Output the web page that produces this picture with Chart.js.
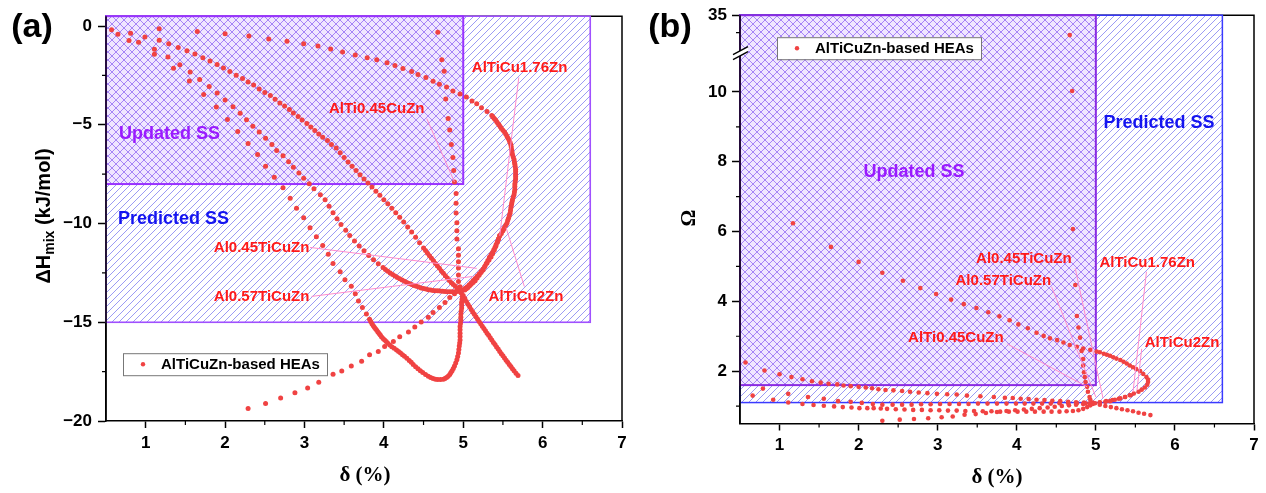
<!DOCTYPE html>
<html>
<head>
<meta charset="utf-8">
<script src="https://cdn.jsdelivr.net/npm/chart.js@4.4.1/dist/chart.umd.min.js"></script>
<style>
  html, body { margin: 0; padding: 0; background: #fff; }
  #wrap { position: relative; width: 1266px; height: 493px; overflow: hidden; }
  canvas { position: absolute; top: 0; }
  #chartA { left: 0; }
  #chartB { left: 633px; }
</style>
</head>
<body>
<div id="wrap">
  <canvas id="chartA" width="633" height="493"></canvas>
  <canvas id="chartB" width="633" height="493"></canvas>
</div>
<script>
// ---- data: delta (%) vs dHmix (kJ/mol), panel (a) ----
const xTicks = [1, 2, 3, 4, 5, 6, 7];
const xMinor = [1.5, 2.5, 3.5, 4.5, 5.5, 6.5];
const yTicksA = [0, -5, -10, -15, -20];
const yMinorA = [-2.5, -7.5, -12.5, -17.5];

const cuA = [
  [2.29,-19.37],[2.51,-19.12],[2.70,-18.84],[2.88,-18.57],[3.04,-18.33],[3.18,-18.04],[3.36,-17.63],[3.47,-17.47],
  [3.59,-17.22],[3.72,-16.97],[3.82,-16.64],[3.93,-16.48],[4.01,-16.23],[4.12,-15.98],[4.20,-15.73],[4.31,-15.49],
  [4.39,-15.24],[4.47,-14.99],[4.56,-14.74],[4.62,-14.50],[4.70,-14.25],[4.77,-14.00],[4.83,-13.75],[4.89,-13.55],
  [4.97,-13.44],[5.02,-13.36],[5.06,-13.24],[5.10,-13.07],[5.15,-12.90],[5.20,-12.62],[5.25,-12.35],[5.29,-12.03],
  [5.33,-11.71],[5.37,-11.46],[5.40,-11.21],[5.43,-10.92],[5.46,-10.62],[5.50,-10.37],[5.52,-10.20],[5.55,-9.98],
  [5.57,-9.73],[5.59,-9.48],[5.60,-9.20],[5.61,-9.00],[5.62,-8.79],[5.64,-8.54],[5.65,-8.27],[5.65,-8.00],
  [5.66,-7.75],[5.66,-7.50],[5.66,-7.25],[5.65,-7.00],[5.64,-6.76],[5.62,-6.51],[5.61,-6.26],[5.60,-6.01],
  [5.58,-5.80],[5.55,-5.57],[5.52,-5.37],[5.48,-5.17],[5.45,-5.00],[5.42,-4.83],[5.39,-4.68],[5.36,-4.53],
  [5.30,-4.33],[5.23,-4.13],[5.17,-3.94],[5.11,-3.79],[5.04,-3.59],[4.96,-3.44],[4.87,-3.29],[4.79,-3.09],
  [4.70,-2.95],[4.62,-2.80],[4.53,-2.60],[4.43,-2.45],[4.35,-2.30],[4.24,-2.15],[4.14,-2.00],[4.04,-1.86],
  [3.91,-1.71],[3.79,-1.61],[3.64,-1.46],[3.48,-1.31],[3.33,-1.16],[3.17,-1.01],[2.99,-0.90],[2.78,-0.77],
  [2.55,-0.65],[2.30,-0.50],[2.00,-0.39],[1.65,-0.27],[1.17,-0.14],[0.57,-0.19],
  // denser stretch along the loop
  [5.375,-4.60],[5.405,-4.75],[5.435,-4.92],[5.465,-5.08],[5.50,-5.27],[5.535,-5.47],[5.565,-5.68],[5.59,-5.90],
  [5.605,-6.13],[5.615,-6.38],[5.63,-6.63],[5.645,-6.88],[5.655,-7.12],[5.66,-7.37],[5.66,-7.62],[5.655,-7.87],
  [5.65,-8.13],[5.645,-8.40],[5.63,-8.66],[5.615,-8.90],[5.605,-9.10],[5.595,-9.34],[5.58,-9.60],[5.56,-9.85],
  [5.535,-10.09],[5.51,-10.28],[5.48,-10.50],[5.445,-10.77],[5.415,-11.06],[5.385,-11.33],[5.35,-11.58],[5.31,-11.87],
  [5.27,-12.19],[5.225,-12.48],[5.175,-12.76],[5.125,-12.98],[5.08,-13.15],[5.04,-13.30]
];
const tiA = [
  [1.11,-1.43],[1.35,-2.14],[1.55,-2.78],[1.73,-3.46],[1.89,-4.10],[2.03,-4.73],[2.16,-5.34],[2.29,-5.95],
  [2.41,-6.51],[2.51,-7.10],[2.62,-7.65],[2.73,-8.19],[2.82,-8.72],[2.90,-9.22],[2.99,-9.71],[3.07,-10.21],
  [3.15,-10.67],[3.23,-11.11],[3.30,-11.56],[3.36,-12.02],[3.45,-12.44],[3.51,-12.85],[3.59,-13.18],[3.64,-13.55],
  [3.68,-13.92],[3.73,-14.25],[3.78,-14.58],[3.82,-14.85],[3.85,-15.07],[3.88,-15.25],[3.91,-15.41],[3.94,-15.57],
  [3.97,-15.73],[4.01,-15.90],[4.05,-16.06],[4.10,-16.24],[4.16,-16.40],[4.21,-16.56],[4.26,-16.72],[4.32,-16.93],
  [4.37,-17.14],[4.43,-17.35],[4.49,-17.55],[4.56,-17.73],[4.62,-17.85],[4.68,-17.90],[4.75,-17.88],[4.79,-17.80],
  [4.83,-17.65],[4.86,-17.45],[4.89,-17.22],[4.92,-16.90],[4.94,-16.56],[4.95,-16.20],[4.96,-15.90],[4.96,-15.55],
  [4.96,-15.22],[4.97,-14.90],[4.97,-14.58],[4.98,-14.28],[4.98,-13.98],[4.99,-13.70],[4.96,-13.20],[4.94,-12.93],
  [4.94,-12.60],[4.94,-12.25],[4.94,-11.93],[4.94,-11.61],[4.94,-11.28],[4.92,-10.78],[4.92,-10.37],[4.92,-9.96],
  [4.91,-9.47],[4.91,-8.97],[4.91,-8.48],[4.89,-7.90],[4.88,-7.32],[4.87,-6.66],[4.85,-6.00],[4.83,-5.26],
  [4.81,-4.68],[4.78,-3.69],[4.76,-2.29],[4.73,-1.71],[4.68,-0.31],
  // denser stretch around the deep minimum
  [3.835,-14.96],[3.865,-15.16],[3.895,-15.33],[3.925,-15.49],[3.955,-15.65],[3.99,-15.82],[4.03,-15.98],[4.075,-16.15],
  [4.13,-16.32],[4.185,-16.48],[4.235,-16.64],[4.29,-16.82],[4.345,-17.03],[4.40,-17.25],[4.46,-17.45],[4.525,-17.64],
  [4.59,-17.80],[4.65,-17.88],[4.715,-17.90],[4.77,-17.85],[4.81,-17.73],[4.845,-17.55],[4.875,-17.34],[4.905,-17.06],
  [4.93,-16.73],[4.945,-16.38],[4.955,-16.05],[4.96,-15.72],[4.96,-15.38],[4.965,-15.06],[4.97,-14.74],[4.975,-14.43],
  [4.98,-14.13],[4.985,-13.84]
];
const alA = [
  [0.81,-0.36],[0.99,-0.55],[1.11,-1.18],[1.28,-1.57],[1.43,-1.96],[1.56,-2.32],[1.68,-2.70],[1.80,-3.06],
  [1.90,-3.39],[2.00,-3.74],[2.10,-4.08],[2.19,-4.42],[2.27,-4.74],[2.35,-5.07],[2.43,-5.37],[2.51,-5.68],
  [2.59,-6.00],[2.65,-6.30],[2.73,-6.57],[2.80,-6.87],[2.86,-7.15],[2.93,-7.44],[2.99,-7.71],[3.06,-7.98],
  [3.12,-8.24],[3.20,-8.54],[3.26,-8.79],[3.31,-9.12],[3.36,-9.45],[3.41,-9.76],[3.46,-10.05],[3.52,-10.34],
  [3.57,-10.60],[3.63,-10.88],[3.69,-11.14],[3.75,-11.38],[3.81,-11.62],[3.87,-11.84],[3.93,-12.04],[3.99,-12.23],
  [4.05,-12.42],[4.11,-12.58],[4.17,-12.73],[4.23,-12.86],[4.29,-12.98],[4.35,-13.09],[4.41,-13.18],[4.47,-13.26],
  [4.53,-13.32],[4.59,-13.37],[4.65,-13.40],[4.71,-13.42],[4.77,-13.44],[4.83,-13.45],[4.89,-13.45],[4.95,-13.43],
  [5.00,-13.35],[5.05,-13.20],[5.10,-13.00],[5.15,-12.78],[5.20,-12.55],[5.25,-12.30],[5.30,-12.00],[5.35,-11.70],
  [5.39,-11.35],[5.43,-10.95],[5.46,-10.60],
  // denser stretch along the bottom of the bend
  [4.02,-12.33],[4.08,-12.50],[4.14,-12.66],[4.20,-12.80],[4.26,-12.92],[4.32,-13.04],[4.38,-13.14],[4.44,-13.22],
  [4.50,-13.29],[4.56,-13.35],[4.62,-13.39],[4.68,-13.41],[4.74,-13.43],[4.80,-13.45],[4.86,-13.45],[4.92,-13.44],
  [4.975,-13.40],[5.025,-13.28],[5.075,-13.10],[5.125,-12.89],[5.175,-12.67],[5.225,-12.43],[5.275,-12.15],[5.325,-11.85],
  [5.37,-11.53],[5.41,-11.15],[5.445,-10.78]
];
const znA = [
  [0.65,-0.42],[0.79,-0.73],[0.91,-0.82],[1.17,-0.72],[1.29,-0.90],[1.41,-1.08],[1.52,-1.25],[1.62,-1.41],
  [1.72,-1.60],[1.81,-1.77],[1.90,-1.94],[1.98,-2.12],[2.06,-2.30],[2.14,-2.49],[2.22,-2.65],[2.29,-2.83],
  [2.36,-2.99],[2.43,-3.19],[2.50,-3.36],[2.57,-3.52],[2.63,-3.70],[2.69,-3.89],[2.75,-4.05],[2.81,-4.22],
  [2.86,-4.40],[2.92,-4.58],[2.97,-4.76],[3.03,-4.93],[3.08,-5.11],[3.13,-5.29],[3.18,-5.47],[3.23,-5.63],
  [3.29,-5.80],[3.34,-6.00],[3.40,-6.18],[3.45,-6.42],[3.50,-6.66],[3.55,-6.88],[3.60,-7.10],[3.65,-7.32],
  [3.70,-7.53],[3.75,-7.74],[3.80,-7.95],[3.85,-8.15],[3.90,-8.36],[3.95,-8.57],[4.00,-8.79],[4.05,-9.00],
  [4.10,-9.22],[4.15,-9.45],[4.20,-9.68],[4.25,-9.92],[4.30,-10.17],[4.35,-10.43],[4.40,-10.70],[4.45,-10.97],
  [4.50,-11.24],[4.55,-11.50],[4.60,-11.76],[4.65,-12.02],[4.70,-12.27],[4.75,-12.52],[4.80,-12.76],[4.85,-13.00],
  [4.90,-13.18],[4.95,-13.40],[5.00,-13.64],[5.04,-13.95],[5.08,-14.22],[5.12,-14.48],[5.16,-14.72],[5.20,-14.96],
  [5.24,-15.20],[5.28,-15.43],[5.32,-15.66],[5.36,-15.90],[5.40,-16.13],[5.44,-16.36],[5.48,-16.59],[5.52,-16.81],
  [5.56,-17.03],[5.60,-17.24],[5.64,-17.45],[5.69,-17.70],
  // denser stretch through the crossing and down to the end
  [4.525,-11.37],[4.575,-11.63],[4.625,-11.89],[4.675,-12.15],[4.725,-12.40],[4.775,-12.64],[4.825,-12.88],[4.875,-13.09],
  [4.925,-13.29],[4.975,-13.52],[5.02,-13.80],[5.06,-14.09],[5.10,-14.35],[5.14,-14.60],[5.18,-14.84],[5.22,-15.08],
  [5.26,-15.32],[5.30,-15.55],[5.34,-15.78],[5.38,-16.02],[5.42,-16.25],[5.46,-16.48],[5.50,-16.70],[5.54,-16.92],
  [5.58,-17.14],[5.62,-17.35],[5.665,-17.58]
];

// ---- data: delta (%) vs Omega, panel (b) ----
const yTicksB = [2, 4, 6, 8, 10, 35];
const yMinorB = [1, 3, 5, 7, 9, 30];
const omegaBreak = { low: 11, high: 25 };

const cuB = [
  [2.30,0.58],[2.52,0.61],[2.70,0.63],[2.88,0.65],[3.05,0.68],[3.19,0.70],[3.34,0.75],[3.48,0.77],
  [3.61,0.80],[3.75,0.83],[3.87,0.86],[3.98,0.88],[4.09,0.90],[4.19,0.92],[4.29,0.94],[4.39,0.96],
  [4.48,0.98],[4.57,1.00],[4.66,1.02],[4.75,1.04],[4.84,1.06],[4.92,1.07],[4.99,1.08],[5.05,1.10],
  [5.12,1.12],[5.18,1.14],[5.24,1.18],[5.31,1.22],[5.37,1.26],[5.43,1.31],[5.48,1.36],[5.54,1.41],
  [5.58,1.47],[5.62,1.53],[5.65,1.61],[5.66,1.69],[5.66,1.76],[5.64,1.83],[5.60,1.92],[5.56,2.00],
  [5.51,2.06],[5.47,2.11],[5.43,2.16],[5.39,2.22],[5.35,2.27],[5.31,2.32],[5.26,2.36],[5.22,2.40],
  [5.18,2.44],[5.14,2.47],[5.10,2.50],[5.05,2.54],[5.01,2.56],[4.93,2.61],[4.84,2.65],[4.76,2.70],
  [4.67,2.75],[4.59,2.82],[4.51,2.89],[4.42,2.94],[4.34,3.01],[4.25,3.10],[4.14,3.23],[4.02,3.34],
  [3.91,3.46],[3.78,3.57],[3.64,3.69],[3.49,3.81],[3.33,3.92],[3.17,4.05],[2.98,4.21],[2.78,4.38],
  [2.56,4.59],[2.30,4.82],[2.00,5.13],[1.65,5.56],[1.17,6.24]
];
const tiB = [
  [0.66,1.30],[0.92,1.18],[1.11,1.10],[1.29,1.06],[1.43,1.03],[1.56,1.01],[1.69,0.99],[1.80,0.97],
  [1.91,0.96],[2.01,0.94],[2.11,0.94],[2.19,0.94],[2.28,0.93],[2.36,0.92],[2.47,0.91],[2.58,0.90],
  [2.69,0.89],[2.80,0.89],[2.91,0.88],[3.02,0.88],[3.13,0.87],[3.24,0.87],[3.35,0.86],[3.46,0.86],
  [3.57,0.85],[3.68,0.85],[3.79,0.84],[3.90,0.84],[4.01,0.84],[4.12,0.84],[4.23,0.84],[4.34,0.84],
  [4.44,0.84],[4.54,0.84],[4.63,0.85],[4.71,0.86],[4.78,0.88],[4.84,0.92],[4.89,0.97],[4.93,1.02],
  [4.96,1.06],[4.96,1.10],[4.93,1.18],[4.92,1.26],[4.90,1.41],[4.89,1.55],[4.87,1.69],[4.86,1.83],
  [4.85,1.97],[4.84,2.16],[4.84,2.35],[4.82,2.58],[4.80,2.96],[4.78,3.25],[4.76,3.58],[4.74,4.47],
  [4.71,6.07],[4.70,10.03],[4.67,29.3]
];
const alB = [
  [0.79,1.50],[1.11,1.35],[1.36,1.26],[1.56,1.21],[1.74,1.14],[1.90,1.12],[2.04,1.09],[2.18,1.06],
  [2.30,1.04],[2.43,1.04],[2.55,1.04],[2.67,1.04],[2.79,1.05],[2.91,1.05],[3.03,1.06],[3.15,1.06],
  [3.27,1.06],[3.39,1.06],[3.51,1.07],[3.63,1.07],[3.75,1.07],[3.87,1.07],[3.99,1.07],[4.10,1.07],
  [4.21,1.07],[4.32,1.07],[4.43,1.07],[4.54,1.08],[4.65,1.08],[4.76,1.08],[4.87,1.08],[4.97,1.08],
  [5.05,1.11],[5.13,1.14],[5.21,1.17],[5.29,1.21],[5.37,1.26],[5.44,1.31]
];
const znB = [
  [0.57,2.25],[0.81,2.02],[1.00,1.91],[1.15,1.83],[1.29,1.77],[1.41,1.71],[1.52,1.67],[1.62,1.64],
  [1.73,1.62],[1.81,1.59],[1.90,1.57],[2.00,1.55],[2.09,1.53],[2.17,1.51],[2.25,1.48],[2.34,1.46],
  [2.44,1.45],[2.55,1.43],[2.65,1.41],[2.76,1.39],[2.87,1.37],[2.99,1.35],[3.12,1.34],[3.24,1.33],
  [3.37,1.30],[3.54,1.28],[3.71,1.26],[3.85,1.24],[3.95,1.23],[4.05,1.21],[4.15,1.20],[4.25,1.18],
  [4.35,1.17],[4.45,1.15],[4.55,1.14],[4.65,1.12],[4.75,1.11],[4.85,1.10],[4.95,1.08],[5.05,1.04],
  [5.12,1.00],[5.19,0.97],[5.26,0.94],[5.33,0.91],[5.40,0.88],[5.47,0.85],[5.54,0.81],[5.61,0.78],
  [5.69,0.74]
];

// stability regions [xmin, xmax], [ymin, ymax]
const predictedA = { x: [0.5, 6.6], y: [-15, 0.5] };
const updatedA = { x: [0.5, 5], y: [-8, 0.5] };
const predictedB = { x: [0.5, 6.6], y: [1.1, 35] };
const updatedB = { x: [0.5, 5], y: [1.6, 35] };

const labelsA = [
  { text: 'AlTiCu1.76Zn', at: [5.71, -2.12], from: [5.70, -2.6], to: [5.46, -10.62] },
  { text: 'AlTi0.45CuZn', at: [3.91, -4.18], from: [4.54, -4.68], to: [4.89, -7.9] },
  { text: 'Al0.45TiCuZn', at: [2.46, -11.21], from: [3.07, -11.21], to: [5.17, -12.27] },
  { text: 'Al0.57TiCuZn', at: [2.46, -13.72], from: [3.09, -13.69], to: [5.12, -12.68] },
  { text: 'AlTiCu2Zn', at: [5.79, -13.72], from: [5.77, -13.19], to: [5.54, -10.21] }
];
const labelsB = [
  { text: 'Al0.45TiCuZn', at: [4.09, 5.23], from: [4.74, 4.94], to: [5.09, 1.23] },
  { text: 'Al0.57TiCuZn', at: [3.83, 4.59], from: [4.44, 4.42], to: [5.00, 1.26] },
  { text: 'AlTiCu1.76Zn', at: [5.65, 5.11], from: [5.64, 4.85], to: [5.47, 1.40] },
  { text: 'AlTiCu2Zn', at: [6.09, 2.82], from: [5.58, 2.64], to: [5.52, 1.45] },
  { text: 'AlTi0.45CuZn', at: [3.23, 2.96], from: [3.88, 2.78], to: [4.89, 1.55] }
];

const SANS = '"Liberation Sans", Arial, sans-serif';
const SERIF = '"Liberation Serif", "Times New Roman", serif';
const DOT = '#f04242';
const PINK = '#ff8ccc';

// y axis with a gap between omegaBreak.low and omegaBreak.high
class BrokenLinearScale extends Chart.LinearScale {
  static id = 'brokenLinear';
  static defaults = Chart.LinearScale.defaults;
  toLinear(v) {
    const b = omegaBreak;
    return v <= b.low ? v : b.low + 0.2 + (v - b.high) * 0.1;
  }
  fromLinear(l) {
    const b = omegaBreak;
    if (l <= b.low) return l;
    if (l <= b.low + 0.2) return b.low;
    return b.high + (l - b.low - 0.2) / 0.1;
  }
  getPixelForValue(v) {
    const lo = this.min, hi = this.toLinear(this.max);
    return this.getPixelForDecimal((this.toLinear(v) - lo) / (hi - lo));
  }
  getValueForPixel(p) {
    const lo = this.min, hi = this.toLinear(this.max);
    return this.fromLinear(lo + this.getDecimalForPixel(p) * (hi - lo));
  }
  buildTicks() {
    return yTicksB.map(v => ({ value: v }));
  }
}
Chart.register(BrokenLinearScale);

function hatchTile(size, bg, color, both) {
  const c = document.createElement('canvas');
  c.width = c.height = size;
  const g = c.getContext('2d');
  if (bg) { g.fillStyle = bg; g.fillRect(0, 0, size, size); }
  g.strokeStyle = color;
  g.lineWidth = 0.8;
  g.beginPath();
  for (let k = -1; k <= 1; k++) {
    g.moveTo(k * size, size); g.lineTo(k * size + size, 0);
    if (both) { g.moveTo(k * size, 0); g.lineTo(k * size + size, size); }
  }
  g.stroke();
  return c;
}
const slashTile = hatchTile(7, null, 'rgba(80,80,235,0.72)', false);
const crossTile = hatchTile(8, '#f0e6ff', 'rgba(110,62,240,0.72)', true);

function text(ctx, str, x, y, font, color, align) {
  ctx.font = font;
  ctx.fillStyle = color;
  ctx.textAlign = align || 'center';
  ctx.textBaseline = 'middle';
  ctx.fillText(str, x, y);
}

function decor(cfg) {
  return {
    id: 'decor',
    beforeDatasetsDraw(chart) {
      const { ctx, chartArea: a, scales: { x, y } } = chart;
      ctx.save();
      ctx.strokeStyle = '#000';
      ctx.lineWidth = 1.5;
      ctx.beginPath();
      ctx.moveTo(a.left, a.top); ctx.lineTo(a.right, a.top); ctx.lineTo(a.right, a.bottom);
      ctx.stroke();
      cfg.regions.forEach(r => {
        const l = x.getPixelForValue(r.box.x[0]), rt = x.getPixelForValue(r.box.x[1]);
        const t = y.getPixelForValue(r.box.y[1]), b = y.getPixelForValue(r.box.y[0]);
        ctx.fillStyle = ctx.createPattern(r.tile, 'repeat');
        ctx.fillRect(l, t, rt - l, b - t);
        ctx.strokeStyle = r.edge;
        ctx.lineWidth = r.edgeWidth;
        ctx.strokeRect(l, t, rt - l, b - t);
      });
      cfg.regions.forEach(r => {
        text(ctx, r.name, x.getPixelForValue(r.at[0]), y.getPixelForValue(r.at[1]),
          'bold 18px ' + SANS, r.textColor);
      });
      ctx.restore();
    },
    afterDatasetsDraw(chart) {
      const { ctx, chartArea: a, scales: { x, y } } = chart;
      ctx.save();
      // left axis over the region edges
      ctx.strokeStyle = '#000';
      ctx.lineWidth = 1.5;
      ctx.beginPath();
      ctx.moveTo(a.left, a.top); ctx.lineTo(a.left, a.bottom);
      ctx.stroke();
      // minor ticks
      ctx.lineWidth = 1.2;
      ctx.beginPath();
      xMinor.forEach(v => { const p = x.getPixelForValue(v); ctx.moveTo(p, a.bottom); ctx.lineTo(p, a.bottom + 4); });
      cfg.minorY.forEach(v => { const p = y.getPixelForValue(v); ctx.moveTo(a.left - 4, p); ctx.lineTo(a.left, p); });
      ctx.stroke();
      // axis break marks
      if (cfg.axisBreak) {
        const m = (y.getPixelForValue(omegaBreak.low) + y.getPixelForValue(omegaBreak.high)) / 2;
        ctx.fillStyle = '#fff';
        ctx.beginPath();
        ctx.moveTo(a.left - 7, m + 1); ctx.lineTo(a.left + 8, m - 7);
        ctx.lineTo(a.left + 8, m - 2); ctx.lineTo(a.left - 7, m + 6);
        ctx.closePath();
        ctx.fill();
        ctx.strokeStyle = '#000';
        ctx.lineWidth = 1.4;
        ctx.beginPath();
        ctx.moveTo(a.left - 7, m + 1); ctx.lineTo(a.left + 8, m - 7);
        ctx.moveTo(a.left - 7, m + 6); ctx.lineTo(a.left + 8, m - 2);
        ctx.stroke();
      }
      // composition labels with leader lines
      ctx.strokeStyle = PINK;
      ctx.lineWidth = 1;
      cfg.labels.forEach(l => {
        ctx.beginPath();
        ctx.moveTo(x.getPixelForValue(l.from[0]), y.getPixelForValue(l.from[1]));
        ctx.lineTo(x.getPixelForValue(l.to[0]), y.getPixelForValue(l.to[1]));
        ctx.stroke();
      });
      cfg.labels.forEach(l => {
        text(ctx, l.text, x.getPixelForValue(l.at[0]), y.getPixelForValue(l.at[1]),
          'bold 15px ' + SANS, '#ff1a1a');
      });
      // legend
      const lg = cfg.legend;
      const lx = a.left + lg.dx, ly = a.top + lg.dy;
      ctx.fillStyle = '#fff';
      ctx.fillRect(lx, ly, lg.w, lg.h);
      ctx.strokeStyle = '#777';
      ctx.lineWidth = 1;
      ctx.strokeRect(lx + 0.5, ly + 0.5, lg.w, lg.h);
      ctx.fillStyle = DOT;
      ctx.beginPath();
      ctx.arc(lx + 20, ly + lg.h / 2, 2.2, 0, Math.PI * 2);
      ctx.fill();
      text(ctx, 'AlTiCuZn-based HEAs', lx + 38, ly + lg.h / 2 + 1, 'bold 15px ' + SANS, '#000', 'left');
      ctx.restore();
    },
    afterDraw(chart) {
      const ctx = chart.ctx;
      ctx.save();
      text(ctx, cfg.panel, cfg.panelAt[0], cfg.panelAt[1], 'bold 34px ' + SANS, '#000');
      text(ctx, 'δ (%)', cfg.xTitleAt[0], cfg.xTitleAt[1], 'bold 21px ' + SERIF, '#000');
      ctx.translate(cfg.yTitleAt[0], cfg.yTitleAt[1]);
      ctx.rotate(-Math.PI / 2);
      if (cfg.yTitle === 'dH') {
        const big = 'bold 20px ' + SANS, small = 'bold 14px ' + SANS;
        ctx.font = big; const w1 = ctx.measureText('ΔH').width;
        ctx.font = small; const w2 = ctx.measureText('mix').width;
        ctx.font = big; const w3 = ctx.measureText(' (kJ/mol)').width;
        let cx = -(w1 + w2 + w3) / 2;
        text(ctx, 'ΔH', cx, 0, big, '#000', 'left'); cx += w1;
        text(ctx, 'mix', cx, 6, small, '#000', 'left'); cx += w2;
        text(ctx, ' (kJ/mol)', cx, 0, big, '#000', 'left');
      } else {
        text(ctx, 'Ω', 0, 0, 'bold 21px ' + SERIF, '#000');
      }
      ctx.restore();
    }
  };
}

function pts(arr) { return arr.map(p => ({ x: p[0], y: p[1] })); }

function dataset(arr, r) {
  return {
    data: pts(arr), showLine: false, pointRadius: r, pointHoverRadius: r,
    pointBackgroundColor: DOT, pointBorderWidth: 0
  };
}

const tickFont = { family: SANS, size: 17, weight: 'bold' };
function xAxis(height) {
  return {
    type: 'linear', min: 0.5, max: 7, bounds: 'data',
    afterBuildTicks: s => { s.ticks = xTicks.map(v => ({ value: v })); },
    afterFit: s => { s.height = height; },
    grid: { drawOnChartArea: false, drawTicks: true, tickLength: 7, tickWidth: 1.5, tickColor: '#000' },
    border: { display: true, color: '#000', width: 1.5 },
    ticks: { font: tickFont, color: '#000', padding: 5, maxRotation: 0 }
  };
}

Chart.defaults.font.family = SANS;

new Chart(document.getElementById('chartA'), {
  type: 'scatter',
  data: { datasets: [cuA, tiA, alA, znA].map(a => dataset(a, 2.5)) },
  options: {
    responsive: false, animation: false, devicePixelRatio: 1, events: [],
    layout: { padding: { left: 0, right: 11, top: 6, bottom: 0 } },
    plugins: { legend: { display: false }, tooltip: { enabled: false } },
    scales: {
      x: xAxis(72),
      y: {
        type: 'linear', min: -20, max: 0.5, bounds: 'data',
        afterBuildTicks: s => { s.ticks = yTicksA.map(v => ({ value: v })); },
        afterFit: s => { s.width = 106; },
        grid: { drawOnChartArea: false, drawTicks: true, tickLength: 8, tickWidth: 1.5, tickColor: '#000' },
        border: { display: true, color: '#000', width: 1.5 },
        ticks: { font: tickFont, color: '#000', padding: 6, callback: v => v < 0 ? '\u2212' + (-v) : String(v) }
      }
    }
  },
  plugins: [decor({
    panel: '(a)', panelAt: [32, 28], xTitleAt: [365, 476], yTitleAt: [44, 216], yTitle: 'dH',
    minorY: yMinorA, axisBreak: false, labels: labelsA,
    legend: { dx: 17, dy: 337, w: 204, h: 22 },
    regions: [
      { name: 'Predicted SS', box: predictedA, at: [1.35, -9.76], tile: slashTile, edge: '#a050ff', edgeWidth: 1.6, textColor: '#1414f0' },
      { name: 'Updated SS', box: updatedA, at: [1.30, -5.47], tile: crossTile, edge: '#9933ff', edgeWidth: 2, textColor: '#9a1aff' }
    ]
  })]
});

new Chart(document.getElementById('chartB'), {
  type: 'scatter',
  data: { datasets: [cuB, tiB, alB, znB].map(a => dataset(a, 2.3)) },
  options: {
    responsive: false, animation: false, devicePixelRatio: 1, events: [],
    layout: { padding: { left: 0, right: 12, top: 10, bottom: 0 } },
    plugins: { legend: { display: false }, tooltip: { enabled: false } },
    scales: {
      x: xAxis(69.5),
      y: {
        type: 'brokenLinear', min: 0.5, max: 35, bounds: 'data',
        afterFit: s => { s.width = 107; },
        grid: { drawOnChartArea: false, drawTicks: true, tickLength: 8, tickWidth: 1.5, tickColor: '#000' },
        border: { display: true, color: '#000', width: 1.5 },
        ticks: { font: tickFont, color: '#000', padding: 5, callback: v => String(v) }
      }
    }
  },
  plugins: [decor({
    panel: '(b)', panelAt: [37, 28], xTitleAt: [364, 478], yTitleAt: [57, 218], yTitle: 'omega',
    minorY: yMinorB, axisBreak: true, labels: labelsB,
    legend: { dx: 37, dy: 22, w: 204, h: 22 },
    regions: [
      { name: 'Predicted SS', box: predictedB, at: [5.80, 9.12], tile: slashTile, edge: '#3a3aff', edgeWidth: 1.5, textColor: '#1414f0' },
      { name: 'Updated SS', box: updatedB, at: [2.70, 7.71], tile: crossTile, edge: '#8a2be2', edgeWidth: 2, textColor: '#9a1aff' }
    ]
  })]
});
</script>
</body>
</html>
